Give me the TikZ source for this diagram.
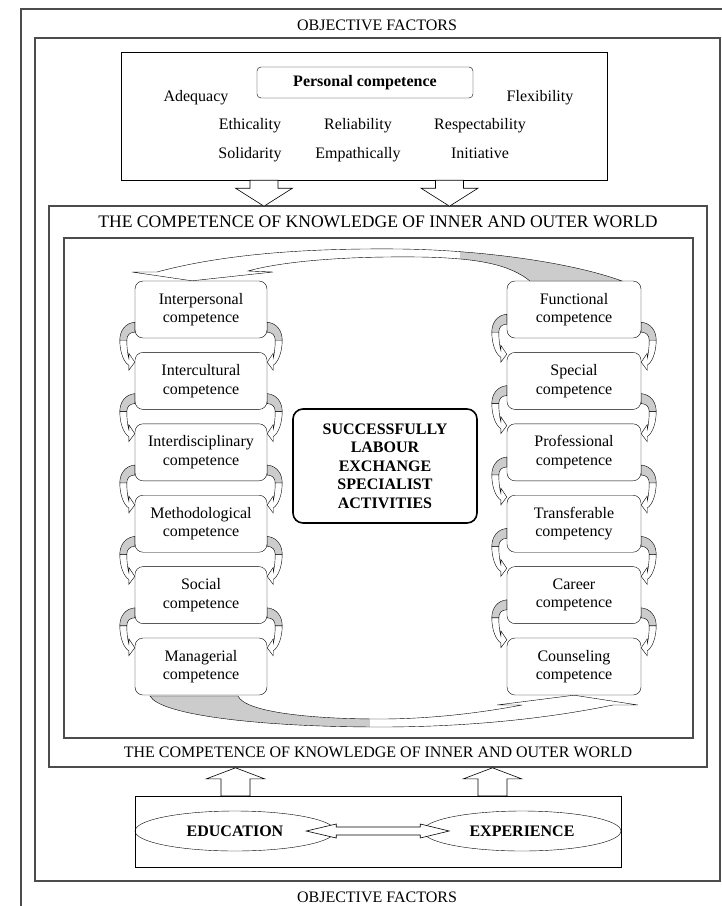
\documentclass[tikz,border=0pt]{standalone}
\usepackage{fontspec}
\setmainfont{Liberation Serif}
\usetikzlibrary{shapes.geometric,positioning,calc}

\newcommand{\diagfont}{\fontsize{16}{18.5}\selectfont}

\tikzset{
  frame/.style={draw=black!70,line width=1.1pt,inner sep=0pt},
  compbox/.style={draw,rounded corners=8pt,minimum width=132pt,minimum height=57pt,align=center,inner sep=2pt},
  quality/.style={inner sep=0pt,text height=11pt,text depth=3.5pt},
  oval/.style={draw,ellipse,minimum width=200pt,minimum height=40pt,inner sep=0pt,font=\diagfont\bfseries},
  blockarrow/.style={draw,fill=white,line width=0.6pt},
  pics/downarrow/.style={code={\draw[blockarrow] (-14,0) -- (14,0) -- (14,8) -- (28.5,8) -- (0,26) -- (-28.5,8) -- (-14,8) -- cycle;}},
  pics/uparrow/.style={code={\draw[blockarrow] (-14.5,0) -- (-14.5,-17) -- (-29,-17) -- (0,-28) -- (29,-17) -- (14.5,-17) -- (14.5,0) -- cycle;}},
  pics/curveL/.style={code={
    \draw[fill=gray!40] (0,-16) .. controls (-10,-15) and (-15,-7) .. (-15,2) -- (-8,2) .. controls (-8,-3) and (-5,-6) .. (0,-6) -- cycle;
    \draw[fill=white] (-15,2) .. controls (-15,14) and (-11,24) .. (-6,27) -- (-6,32) -- (0,24) -- (-6,15) -- (-6,20) .. controls (-7,17) and (-8,10) .. (-8,2) -- cycle;}}
}

\begin{document}
\begin{tikzpicture}[x=1pt,y=-1pt,font=\diagfont]
\useasboundingbox (0,0) rectangle (722,906);

% frames
\draw[draw=black!70,line width=1.1pt] (722,9) -- (21,9) -- (21,906);
\node (of1) at (377,25) {OBJECTIVE FACTORS};
\node (of2) at (377,897) {OBJECTIVE FACTORS};
\node[frame,minimum width=685pt,minimum height=843pt] (factors) at (377.5,459.5) {};

% personal competence
\node[draw,minimum width=486pt,minimum height=128pt] (personal) at (364,116) {};
\node[draw,rounded corners=4pt,minimum width=216pt,minimum height=31pt,font=\diagfont\bfseries] (pc) at (365,82.5) {Personal competence};
\foreach \w/\x/\y [count=\n] in {Adequacy/196/98,Flexibility/540/98,Ethicality/250/126,Reliability/358/126,Respectability/480/126,Solidarity/250/155,Empathically/358/155,Initiative/480/155}
  \node[quality] (Q\n) at (\x,\y) {\w};

% knowledge of inner and outer world
\node[frame,minimum width=658pt,minimum height=561pt] (world) at (378,486.5) {};
\node[font=\fontsize{17.6}{20}\selectfont] (wt) at (378,222) {THE COMPETENCE OF KNOWLEDGE OF INNER AND OUTER WORLD};
\node (wb) at (378,752.5) {THE COMPETENCE OF KNOWLEDGE OF INNER AND OUTER WORLD};
\node[frame,minimum width=629pt,minimum height=500pt] (inner) at (378.5,488) {};

\path (personal.south) ++(-100,0) pic {downarrow};
\path (personal.south) ++(85.5,0) pic {downarrow};

% competence columns
\foreach \t [count=\n] in {Interpersonal,Intercultural,Interdisciplinary,Methodological,Social,Managerial}
  \node[compbox] (L\n) at (201,{309.5+71.4*(\n-1)}) {\t\\competence};
\foreach \t/\s [count=\n] in {Functional/competence,Special/competence,Professional/competence,Transferable/competency,Career/competence,Counseling/competence}
  \node[compbox,minimum width=134pt] (R\n) at (574,{309.5+71.4*(\n-1)}) {\t\\\s};

\foreach \n in {1,...,5}{
  \pic at (L\n.south west) {curveL};
  \pic[xscale=-1] at (L\n.south east) {curveL};
  \pic at ([yshift=8pt]R\n.south west) {curveL};
  \pic[xscale=-1] at (R\n.south east) {curveL};
}

\node[draw,line width=1.6pt,rounded corners=10pt,minimum width=184pt,minimum height=114pt,align=center,font=\diagfont\bfseries] (goal) at (385,466)
  {SUCCESSFULLY\\LABOUR\\EXCHANGE\\SPECIALIST\\ACTIVITIES};

% loops round the columns
\draw[fill=white,path picture={\fill[gray!40] (460,230) rectangle (722,290);}]
  (132,272) -- (157,272) .. controls (220,255) and (300,248) .. (400,249)
  .. controls (480,250) and (570,262) .. (622,281) -- (530,281)
  .. controls (510,265) and (480,258) .. (420,257)
  .. controls (340,256) and (280,262) .. (248,271) -- (273,272) -- (L1.north -| 192,0) -- cycle;
\draw[fill=white,path picture={\fill[gray!40] (100,690) rectangle (370,740);}]
  (150,696) .. controls (160,715) and (260,727) .. (380,727)
  .. controls (480,727) and (560,716) .. (613,705) -- (638,705) -- (R6.south) -- (497,705) -- (522,705)
  .. controls (480,713) and (430,719) .. (380,719)
  .. controls (310,719) and (245,712) .. (238,696) -- cycle;

% education and experience
\node[draw,minimum width=486pt,minimum height=71pt] (base) at (378,831.5) {};
\node[oval] (edu) at (235,831) {EDUCATION};
\node[oval,minimum width=198pt] (exp) at (522,831) {EXPERIENCE};
\draw[blockarrow] ($(edu.east)+(-29,0)$) -- ++(30,-7) -- ++(0,3) -- ++(84,0) -- ++(0,-3) -- ++(29,7)
  -- ++(-29,7) -- ++(0,-3) -- ++(-84,0) -- ++(0,3) -- cycle;

\path (base.north) ++(-142.5,0) pic {uparrow};
\path (base.north) ++(114.5,0) pic {uparrow};
\end{tikzpicture}
\end{document}
